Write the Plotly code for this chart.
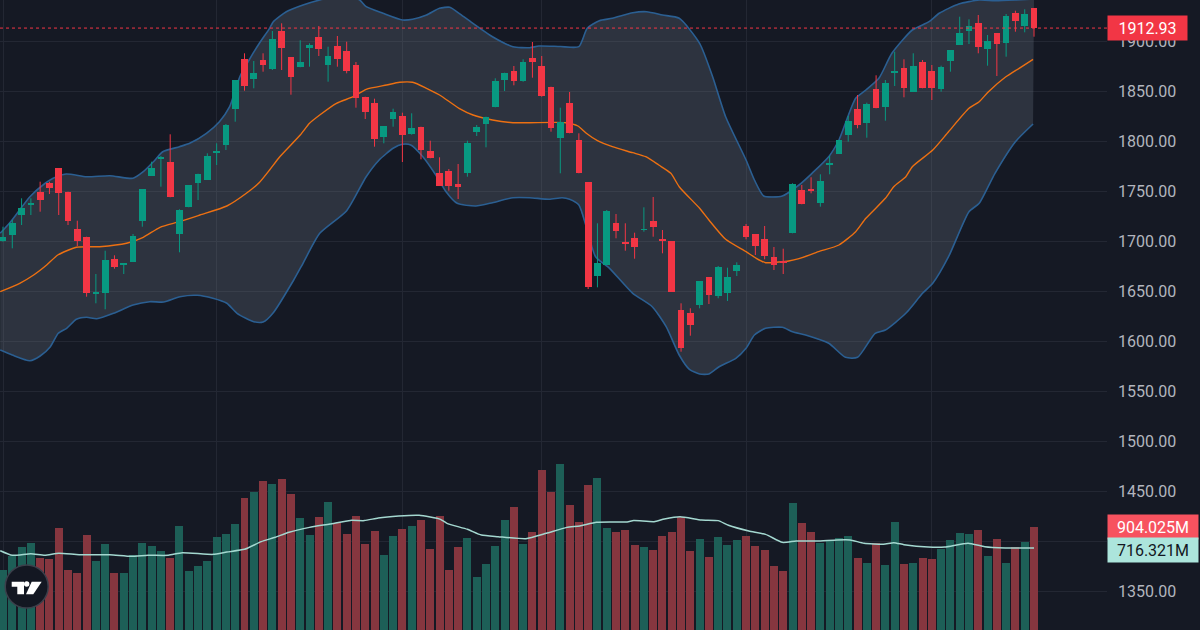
import plotly.graph_objects as go

# ---------------- data ----------------
opens = [1700.3, 1705.7, 1726.0, 1735.7, 1749.3, 1758.0, 1772.7, 1749.3, 1711.7, 1704.3,
         1647.3, 1648.3, 1681.7, 1676.0, 1679.3, 1720.3, 1765.0, 1782.3, 1779.3, 1706.7,
         1733.7, 1758.3, 1761.0, 1788.3, 1795.7, 1831.7, 1881.7, 1862.3, 1881.0, 1872.3,
         1910.0, 1883.7, 1874.3, 1893.3, 1904.3, 1875.7, 1895.0, 1890.3, 1876.0, 1844.3,
         1837.7, 1804.3, 1822.3, 1825.0, 1807.0, 1814.3, 1790.0, 1768.3, 1770.0, 1757.3,
         1768.3, 1809.0, 1817.0, 1833.7, 1861.0, 1869.7, 1860.3, 1882.7, 1875.0, 1854.3,
         1803.3, 1837.7, 1801.0, 1758.7, 1665.0, 1676.0, 1717.7, 1698.7, 1702.7, 1711.0,
         1719.7, 1701.7, 1699.7, 1631.0, 1628.3, 1635.7, 1664.0, 1645.3, 1647.7, 1670.0,
         1715.0, 1707.0, 1701.7, 1683.7, 1679.3, 1707.7, 1751.0, 1751.0, 1738.3, 1776.7,
         1787.0, 1806.0, 1832.0, 1818.3, 1851.7, 1834.3, 1867.7, 1873.3, 1849.3, 1879.0,
         1870.3, 1852.0, 1880.0, 1896.0, 1910.3, 1918.3, 1892.3, 1907.7, 1898.3, 1927.7,
         1915.0, 1932.7]
highs = [1714.3, 1721.0, 1742.7, 1742.7, 1759.3, 1759.3, 1772.7, 1749.3, 1720.3, 1704.3,
         1667.0, 1690.3, 1685.7, 1677.7, 1707.0, 1752.0, 1779.3, 1785.0, 1806.7, 1731.7,
         1756.0, 1767.3, 1787.7, 1797.7, 1817.0, 1861.0, 1887.7, 1880.0, 1887.7, 1910.0,
         1917.7, 1883.7, 1900.7, 1897.7, 1915.0, 1894.3, 1905.0, 1899.3, 1879.0, 1844.3,
         1842.3, 1815.0, 1832.3, 1828.3, 1827.7, 1814.3, 1800.3, 1783.7, 1772.0, 1777.0,
         1800.3, 1816.0, 1824.3, 1862.7, 1868.3, 1875.0, 1881.7, 1899.0, 1885.0, 1854.3,
         1833.3, 1849.0, 1807.7, 1758.7, 1717.7, 1731.0, 1727.0, 1717.7, 1708.3, 1733.7,
         1744.0, 1711.0, 1699.7, 1637.7, 1632.7, 1660.0, 1664.0, 1675.0, 1673.3, 1678.7,
         1717.0, 1707.0, 1715.0, 1694.0, 1692.3, 1757.7, 1756.0, 1763.7, 1766.7, 1785.0,
         1801.0, 1825.0, 1846.0, 1838.3, 1865.7, 1861.0, 1889.3, 1881.7, 1887.7, 1881.0,
         1876.0, 1875.3, 1891.0, 1924.3, 1921.7, 1926.0, 1906.0, 1907.7, 1927.0, 1930.3,
         1931.7, 1932.7]
lows = [1699.3, 1692.7, 1716.0, 1726.0, 1729.3, 1747.0, 1726.0, 1716.0, 1695.0, 1644.3,
        1637.7, 1631.7, 1672.3, 1667.0, 1679.3, 1714.3, 1765.0, 1754.3, 1743.7, 1688.7,
        1733.7, 1741.0, 1761.0, 1776.0, 1791.0, 1819.3, 1850.3, 1852.7, 1869.3, 1871.0,
        1871.0, 1846.3, 1873.7, 1874.3, 1885.0, 1859.3, 1874.3, 1867.7, 1833.3, 1822.0,
        1794.3, 1797.7, 1814.3, 1779.0, 1806.3, 1781.7, 1782.7, 1755.3, 1750.3, 1742.0,
        1764.3, 1805.0, 1793.7, 1833.7, 1850.0, 1855.7, 1859.3, 1863.3, 1844.3, 1809.3,
        1767.7, 1807.7, 1767.7, 1652.0, 1653.7, 1676.0, 1702.7, 1690.3, 1682.3, 1709.3,
        1704.3, 1687.7, 1649.3, 1589.3, 1605.3, 1632.7, 1637.0, 1642.7, 1640.0, 1665.0,
        1701.7, 1686.0, 1681.7, 1671.0, 1667.0, 1707.7, 1736.7, 1747.7, 1734.3, 1766.7,
        1787.0, 1799.3, 1812.7, 1803.3, 1832.7, 1820.3, 1855.0, 1843.7, 1849.3, 1852.7,
        1841.0, 1849.3, 1869.3, 1896.0, 1897.0, 1887.7, 1875.3, 1865.0, 1884.3, 1909.3,
        1908.7, 1904.3]
closes = [1703.7, 1718.3, 1732.7, 1738.3, 1741.0, 1753.3, 1747.7, 1720.0, 1700.3, 1648.3,
          1648.0, 1681.0, 1674.3, 1677.7, 1705.3, 1752.0, 1772.7, 1783.0, 1743.7, 1731.0,
          1756.0, 1767.3, 1785.0, 1789.0, 1816.0, 1861.0, 1855.0, 1867.7, 1876.3, 1902.3,
          1893.3, 1864.3, 1879.0, 1896.0, 1892.3, 1885.0, 1882.3, 1870.0, 1842.7, 1829.3,
          1802.3, 1815.0, 1829.3, 1806.3, 1813.3, 1791.3, 1782.7, 1755.3, 1755.3, 1754.3,
          1797.7, 1814.3, 1824.3, 1860.0, 1867.7, 1860.3, 1879.0, 1879.0, 1845.0, 1812.7,
          1818.7, 1807.7, 1767.7, 1654.3, 1677.7, 1730.0, 1710.3, 1697.0, 1694.3, 1711.7,
          1714.3, 1700.3, 1649.3, 1593.3, 1616.3, 1660.0, 1645.7, 1674.3, 1664.0, 1676.0,
          1703.7, 1695.3, 1685.3, 1676.0, 1678.5, 1757.0, 1736.7, 1750.3, 1760.0, 1777.3,
          1801.0, 1820.0, 1816.0, 1837.0, 1832.7, 1857.7, 1870.3, 1853.3, 1875.0, 1852.7,
          1853.3, 1874.3, 1891.0, 1907.7, 1915.0, 1894.3, 1900.3, 1897.3, 1925.0, 1920.3,
          1927.0, 1912.93]
volumes_m = [524, 647, 723, 763, 632, 618, 894, 524, 501, 830,
             603, 749, 501, 501, 656, 758, 734, 693, 632, 909,
             518, 559, 603, 813, 839, 926, 1157, 1206, 1305, 1273,
             1320, 1189, 976, 830, 985, 1116, 938, 839, 996, 755,
             865, 656, 822, 886, 909, 961, 708, 996, 524, 725,
             804, 463, 577, 734, 961, 1075, 755, 857, 1398, 1206,
             1451, 1093, 944, 1265, 1328, 894, 857, 871, 746, 723,
             699, 822, 857, 985, 690, 795, 641, 813, 746, 787,
             822, 731, 699, 559, 516, 1107, 935, 857, 763, 778,
             801, 822, 632, 583, 758, 568, 944, 577, 583, 632,
             618, 705, 789, 848, 836, 871, 647, 795, 583, 723,
             772, 904.025]

# Bollinger bands (upper / basis / lower), read at candle positions
upper_pos = [-0.3, 0.8, 2.9, 4.3, 5.4, 6.8, 9.0, 11.5, 14.0, 15.1, 16.2, 17.2, 19.0, 20.1,
             21.9, 23.3, 24.4, 25.5, 26.6, 27.6, 28.7, 29.1, 30.5, 32.3, 34.1, 35.6, 37.0,
             38.4, 39.1, 40.9, 43.0, 44.1, 45.6, 47.0, 48.1, 49.1, 50.2, 52.7, 54.9, 56.7,
             57.7, 60.0, 62.0, 62.9, 64.2, 65.6, 67.8, 69.3, 71.0, 72.8, 75.0, 76.4, 77.8,
             80.0, 80.9, 81.9, 83.9, 85.7, 87.1, 88.9, 90.0, 91.8, 92.9, 94.3, 95.7, 97.9,
             99.7, 100.8, 102.9, 105.1, 106.8, 109.0, 111.0]
upper_band = [1707.7, 1719.0, 1744.3, 1756.0, 1762.7, 1767.0, 1764.3, 1765.3, 1762.7, 1769.3,
              1779.3, 1789.3, 1794.3, 1797.7, 1807.7, 1819.3, 1834.3, 1864.3, 1882.7, 1897.7,
              1912.7, 1919.3, 1929.3, 1936.0, 1941.0, 1944.0, 1944.0, 1941.0, 1934.3, 1927.7,
              1921.0, 1921.7, 1926.0, 1932.7, 1933.7, 1927.7, 1920.3, 1904.3, 1894.3, 1893.3,
              1895.0, 1894.5, 1894.3, 1912.7, 1920.3, 1922.7, 1928.3, 1929.3, 1926.0, 1922.7,
              1897.7, 1864.3, 1824.3, 1781.0, 1761.0, 1745.0, 1745.0, 1756.0, 1767.7, 1784.3,
              1801.0, 1842.7, 1851.0, 1862.7, 1887.7, 1911.0, 1919.3, 1927.7, 1937.0, 1941.0,
              1940.3, 1941.0, 1942.0]
basis_pos = [-0.3, 1.8, 3.3, 4.7, 5.9, 7.9, 10.4, 13.3, 15.1, 16.9, 19.0, 21.2, 24.1, 26.2,
             27.6, 28.7, 29.8, 32.0, 33.0, 34.1, 35.9, 37.7, 39.1, 41.3, 42.7, 44.1, 45.6,
             47.0, 49.1, 50.6, 52.7, 54.9, 56.7, 60.6, 61.9, 62.8, 64.0, 65.6, 67.8, 69.2,
             70.6, 71.9, 72.8, 75.0, 76.0, 77.8, 80.0, 81.1, 82.1, 83.5, 84.6, 85.7, 87.8,
             90.0, 91.8, 92.9, 95.0, 95.9, 97.2, 97.9, 100.1, 101.8, 104.0, 105.1, 106.1,
             107.9, 109.4, 110.9]
basis_band = [1649.3, 1657.7, 1666.0, 1676.0, 1686.0, 1693.7, 1694.3, 1697.7, 1703.7, 1713.7,
              1719.3, 1726.0, 1735.0, 1747.7, 1758.5, 1771.0, 1784.3, 1806.0, 1817.7, 1826.0,
              1837.7, 1844.3, 1851.7, 1856.0, 1858.7, 1858.7, 1852.7, 1846.0, 1832.7, 1826.0,
              1821.0, 1818.3, 1818.3, 1818.3, 1815.0, 1807.7, 1800.3, 1794.3, 1788.3, 1784.3,
              1776.0, 1767.7, 1754.3, 1732.7, 1721.0, 1701.7, 1689.3, 1682.7, 1678.3, 1679.0,
              1680.0, 1682.3, 1689.3, 1696.0, 1709.3, 1722.7, 1742.7, 1754.3, 1764.3, 1774.3,
              1791.0, 1809.3, 1832.7, 1839.3, 1849.3, 1863.7, 1872.7, 1881.7]
lower_pos = [-0.3, 1.0, 2.9, 4.0, 5.1, 5.95, 6.85, 7.9, 9.0, 10.1, 11.9, 14.0, 15.8, 17.3,
             19.05, 20.9, 22.6, 24.1, 25.2, 27.0, 28.0, 29.1, 31.3, 32.3, 34.1, 37.0, 39.1,
             40.5, 42.0, 43.0, 43.9, 45.2, 46.6, 47.7, 48.9, 50.9, 52.7, 54.9, 56.7, 58.8,
             60.2, 61.0, 62.0, 62.8, 63.8, 65.3, 67.8, 69.9, 71.4, 72.8, 73.9, 75.0, 76.0,
             77.1, 78.9, 80.0, 80.9, 82.1, 83.9, 85.0, 86.4, 88.9, 90.7, 92.0, 93.9, 95.0,
             97.2, 99.0, 100.1, 101.8, 104.0, 105.1, 106.8, 109.0, 110.9]
lower_band = [1591.0, 1586.0, 1580.3, 1585.0, 1594.3, 1607.7, 1612.7, 1621.7, 1623.7, 1622.3,
              1627.7, 1636.0, 1639.3, 1639.0, 1644.3, 1645.7, 1642.7, 1637.7, 1627.7, 1619.3,
              1619.0, 1628.3, 1661.0, 1677.7, 1707.7, 1730.3, 1764.3, 1781.0, 1792.7, 1796.7,
              1796.0, 1784.3, 1766.0, 1749.3, 1737.7, 1735.0, 1738.3, 1743.3, 1743.3, 1741.7,
              1743.3, 1741.7, 1736.0, 1714.3, 1684.3, 1672.7, 1647.7, 1634.3, 1614.3, 1586.0,
              1571.7, 1567.0, 1567.0, 1574.3, 1582.7, 1592.7, 1606.0, 1612.7, 1613.7, 1609.3,
              1606.0, 1597.7, 1583.7, 1583.7, 1607.7, 1611.0, 1627.7, 1647.7, 1657.7, 1684.3,
              1729.3, 1737.7, 1767.7, 1799.3, 1817.0]

# Volume moving average (millions)
vol_ma_pos = [-0.3, 1.0, 3.0, 4.5, 6.0, 8.2, 11.5, 13.8, 15.6, 17.8, 19.3, 22.6, 24.1, 26.0,
              27.8, 29.3, 30.8, 33.0, 35.2, 37.4, 38.9, 40.4, 42.6, 44.8, 47.1, 47.8, 50.0,
              51.5, 53.3, 56.3, 58.5, 60.7, 62.1, 63.9, 67.2, 67.9, 70.1, 71.2, 72.9, 75.2,
              77.0, 78.1, 80.3, 82.1, 83.9, 85.4, 87.6, 89.8, 91.2, 92.7, 94.8, 95.9, 97.0,
              99.6, 101.4, 103.9, 105.7, 107.9, 111.0]
vol_ma = [693, 653, 667, 653, 670, 658, 658, 644, 653, 653, 676, 661, 682, 705,
          772, 810, 854, 897, 926, 958, 956, 979, 996, 1002, 967, 932, 880,
          830, 816, 798, 845, 897, 909, 941, 944, 956, 947, 970, 990, 961,
          956, 915, 865, 836, 766, 778, 778, 787, 787, 758, 749, 763, 746,
          725, 725, 758, 728, 717, 716.321]

price_ticks = [1350, 1400, 1450, 1500, 1550, 1600, 1650, 1700, 1750, 1800, 1850, 1900]
price_tick_text = ["1350.00", "", "1450.00", "1500.00", "1550.00", "1600.00", "1650.00",
                   "1700.00", "1750.00", "1800.00", "1850.00", "1900.00"]
month_marks = [0, 23, 43, 58, 80, 100]
last_price = 1912.93
last_volume = 904.025
last_vol_ma = 716.321

# ---------------- styling ----------------
BG = "#151924"
GRID = "#232733"
UP = "#089981"
DOWN = "#f23645"
UP_VOL = "#1d5f57"
DOWN_VOL = "#86363f"
FONT = "Roboto"

idx = list(range(len(opens)))
is_up = [c >= o for o, c in zip(opens, closes)]

fig = go.Figure()

# Bollinger band fill and lines (base subplot)
fig.add_trace(go.Scatter(
    x=upper_pos + lower_pos[::-1], y=upper_band + lower_band[::-1],
    fill="toself", fillcolor="rgba(120,130,142,0.25)", line=dict(width=0),
    mode="lines", hoverinfo="skip", showlegend=False))
fig.add_trace(go.Scatter(x=upper_pos, y=upper_band, mode="lines",
                         line=dict(color="#2b5f92", width=1.6, shape="spline", smoothing=0.6),
                         showlegend=False))
fig.add_trace(go.Scatter(x=lower_pos, y=lower_band, mode="lines",
                         line=dict(color="#2b5f92", width=1.6, shape="spline", smoothing=0.6),
                         showlegend=False))
fig.add_trace(go.Scatter(x=basis_pos, y=basis_band, mode="lines",
                         line=dict(color="#ec7012", width=1.4, shape="spline", smoothing=0.6),
                         showlegend=False))

# Volume (overlay subplot y2)
fig.add_trace(go.Bar(x=idx, y=volumes_m, yaxis="y2", width=0.86,
                     marker=dict(color=[UP_VOL if u else DOWN_VOL for u in is_up], line=dict(width=0)),
                     showlegend=False))
fig.add_trace(go.Scatter(x=vol_ma_pos, y=vol_ma, yaxis="y2", mode="lines",
                         line=dict(color="#a4d8d0", width=1.5, shape="spline", smoothing=0.5),
                         showlegend=False))

# Candles (overlay subplot y3): bodies as bars, wicks as line segments
body_base = [min(o, c) for o, c in zip(opens, closes)]
body_h = [max(abs(c - o), 0.9) for o, c in zip(opens, closes)]
fig.add_trace(go.Bar(x=idx, y=body_h, base=body_base, yaxis="y3", width=0.72,
                     marker=dict(color=[UP if u else DOWN for u in is_up], line=dict(width=0)),
                     showlegend=False))
for want_up, col in ((True, UP), (False, DOWN)):
    wx, wy = [], []
    for i, (h, l, u) in enumerate(zip(highs, lows, is_up)):
        if u == want_up:
            wx += [i, i, None]
            wy += [l, h, None]
    fig.add_trace(go.Scatter(x=wx, y=wy, yaxis="y3", mode="lines",
                             line=dict(color=col, width=1), showlegend=False, hoverinfo="skip"))

step = 1031 / 111.0
x_left = -3 / step
x_right = x_left + 1107 / step
y_range = [1311, 1941]
vol_range = [0, 630 * 8.74]

fig.update_layout(
    width=1200, height=630,
    margin=dict(l=0, r=93, t=0, b=0),
    paper_bgcolor=BG, plot_bgcolor=BG,
    bargap=0, barmode="overlay",
    font=dict(family=FONT, color="#b2b5be", size=16),
    xaxis=dict(range=[x_left, x_right], showticklabels=False, tickvals=month_marks,
               showgrid=True, gridcolor=GRID, gridwidth=1, zeroline=False, showline=False,
               ticks=""),
    yaxis=dict(range=y_range, side="right", tickvals=price_ticks, ticktext=price_tick_text,
               showgrid=True, gridcolor=GRID, gridwidth=1, zeroline=False, showline=False,
               ticks="", ticklabelstandoff=10,
               tickfont=dict(family=FONT, size=16, color="#b2b5be")),
    yaxis2=dict(range=vol_range, overlaying="y", side="right", showgrid=False,
                showticklabels=False, zeroline=False, showline=False, ticks=""),
    yaxis3=dict(range=y_range, overlaying="y", side="right", showgrid=False,
                showticklabels=False, zeroline=False, showline=False, ticks=""),
    showlegend=False,
)

# last price dotted line
fig.add_shape(type="line", xref="paper", x0=0, x1=1, yref="y", y0=last_price, y1=last_price,
              line=dict(color=DOWN, width=1, dash="dot"))

# price / volume labels on the scale
fig.add_annotation(x=1, xref="paper", xanchor="left", y=last_price, yref="y",
                   text=f"{last_price:.2f}", showarrow=False, bgcolor=DOWN,
                   font=dict(family=FONT, size=16, color="#ffffff"),
                   width=75, height=20, borderpad=2, align="center")
fig.add_annotation(x=1, xref="paper", xanchor="left", y=last_volume, yref="y2",
                   text=f"{last_volume:.3f}M", showarrow=False, bgcolor="#f7525f",
                   font=dict(family=FONT, size=16, color="#ffffff"),
                   width=86, height=20, borderpad=2, align="center")
fig.add_annotation(x=1, xref="paper", xanchor="left", y=last_vol_ma, yref="y2", yshift=-2,
                   text=f"{last_vol_ma:.3f}M", showarrow=False, bgcolor="#ace5dc",
                   font=dict(family=FONT, size=16, color="#131722"),
                   width=86, height=20, borderpad=2, align="center")

# TradingView logo badge (decoration)
pix = dict(xref="paper", yref="paper", xsizemode="pixel", ysizemode="pixel", xanchor=0, yanchor=0)
fig.add_shape(type="circle", x0=5.2, x1=48.2, y0=22, y1=65, fillcolor="#131722",
              line=dict(color="#3b3f4b", width=1.5), **pix)
fig.add_shape(type="path", path="M 11.7,48.3 L 24,48.3 L 24,35.7 L 17.3,35.7 L 17.3,43.3 L 11.7,43.3 Z",
              fillcolor="#ffffff", line=dict(width=0), **pix)
fig.add_shape(type="circle", x0=24.0, x1=29.4, y0=43.3, y1=48.7, fillcolor="#ffffff",
              line=dict(width=0), **pix)
fig.add_shape(type="path", path="M 31.7,48.3 L 41.7,48.3 L 33.3,35.7 L 26,35.7 Z",
              fillcolor="#ffffff", line=dict(width=0), **pix)

fig.write_html("out.html")
